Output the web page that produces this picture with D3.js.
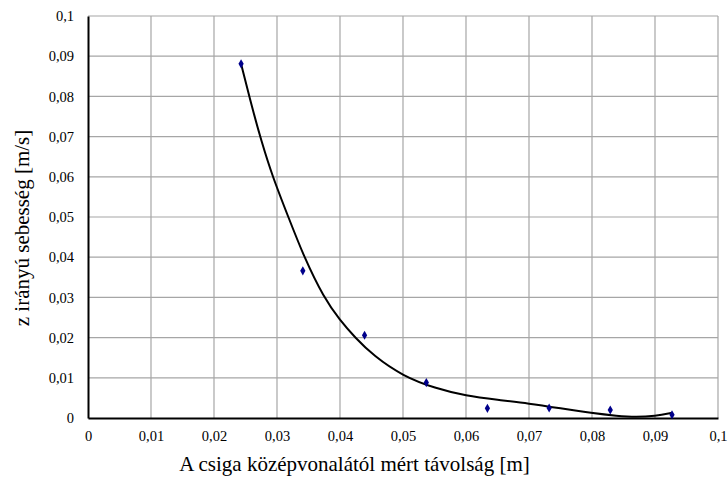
<!DOCTYPE html>
<meta charset="utf-8">
<script src="https://d3js.org/d3.v7.min.js"></script>
<style>
    body { margin: 0; background: #fff; }
</style>
<div id="chart"></div>
<script>

    var serif = "'Liberation Serif', 'DejaVu Serif', serif";

    // measured points
    var distX = [0.0243, 0.0341, 0.0439, 0.0537, 0.0634, 0.0732, 0.0829, 0.0927];
    var speedZ = [0.0881, 0.0366, 0.0206, 0.0088, 0.0024, 0.0025, 0.0020, 0.0008];

    // trend line
    var trendX = [0.0243, 0.0260, 0.0275, 0.0293, 0.0318, 0.0343, 0.0374, 0.0400, 0.0424, 0.0453,
                  0.0500, 0.0551, 0.0600, 0.0650, 0.0700, 0.0750, 0.0800, 0.0840, 0.0870, 0.0900,
                  0.0928];
    var trendY = [0.0881, 0.0775, 0.0690, 0.0600, 0.0500, 0.0400, 0.0300, 0.0243, 0.0200, 0.0155,
                  0.0104, 0.0074, 0.0055, 0.0045, 0.0036, 0.0024, 0.0012, 0.0005, 0.0002, 0.0005,
                  0.0013];

    var ticks = [0, 0.01, 0.02, 0.03, 0.04, 0.05, 0.06, 0.07, 0.08, 0.09, 0.1];
    var tickLabels = ["0", "0,01", "0,02", "0,03", "0,04", "0,05", "0,06", "0,07", "0,08", "0,09", "0,1"];

    var margin = {top: 16, left: 88},
        width = 718 - margin.left,
        height = 418 - margin.top;

    var svg = d3.select("#chart")
        .append("svg")
        .attr("width", 728)
        .attr("height", 479)
        .append("g")
        .attr("transform", "translate(" + margin.left + "," + margin.top + ")");

    var x = d3.scaleLinear().domain([0, 0.1]).range([0, width]);
    var y = d3.scaleLinear().domain([0, 0.1]).range([height, 0]);

    // grid
    svg.append("g")
        .selectAll("line")
        .data(ticks.slice(1))
        .enter().append("line")
        .attr("x1", function(d) { return x(d); })
        .attr("x2", function(d) { return x(d); })
        .attr("y1", 0).attr("y2", height)
        .attr("stroke", "#a6a6a6").attr("stroke-width", 1.2);
    svg.append("g")
        .selectAll("line")
        .data(ticks.slice(1))
        .enter().append("line")
        .attr("y1", function(d) { return y(d); })
        .attr("y2", function(d) { return y(d); })
        .attr("x1", 0).attr("x2", width)
        .attr("stroke", "#a6a6a6").attr("stroke-width", 1.2);

    // axes
    var xAxis = svg.append("g")
        .attr("transform", "translate(0," + height + ")")
        .call(d3.axisBottom(x).tickValues(ticks).tickSize(0).tickPadding(13)
            .tickFormat(function(d, i) { return tickLabels[i]; }));
    var yAxis = svg.append("g")
        .call(d3.axisLeft(y).tickValues(ticks).tickSize(0).tickPadding(14)
            .tickFormat(function(d, i) { return tickLabels[i]; }));
    [xAxis, yAxis].forEach(function(a) {
        a.attr("font-family", serif).attr("font-size", 14.5);
        a.select(".domain").attr("stroke", "#000").attr("stroke-width", 2);
        a.selectAll("text")
            .attr("fill", "#000")
            .style("font-family", serif, "important")
            .style("font-size", "14.5px", "important");
    });

    // trend line
    var trend = trendX.map(function(d, i) { return [d, trendY[i]]; });
    svg.append("path")
        .datum(trend)
        .attr("fill", "none")
        .attr("stroke", "#000")
        .attr("stroke-width", 2)
        .attr("d", d3.line()
            .x(function(d) { return x(d[0]); })
            .y(function(d) { return y(d[1]); })
            .curve(d3.curveBasis));

    // points
    svg.selectAll("path.pt")
        .data(distX)
        .enter().append("path")
        .attr("class", "pt")
        .attr("transform", function(d, i) { return "translate(" + x(d) + "," + y(speedZ[i]) + ")"; })
        .attr("d", d3.symbol().type(d3.symbolDiamond).size(24))
        .attr("fill", "#00008b");

    // titles
    svg.append("text")
        .attr("x", 354.5 - margin.left)
        .attr("y", 471 - margin.top)
        .attr("text-anchor", "middle")
        .style("font-family", serif, "important")
        .style("font-size", "21px", "important")
        .text("A csiga középvonalától mért távolság [m]");
    svg.append("text")
        .attr("transform", "translate(" + (29 - margin.left) + "," + (228 - margin.top) + ") rotate(-90)")
        .attr("text-anchor", "middle")
        .style("font-family", serif, "important")
        .style("font-size", "21px", "important")
        .text("z irányú sebesség [m/s]");

</script>
